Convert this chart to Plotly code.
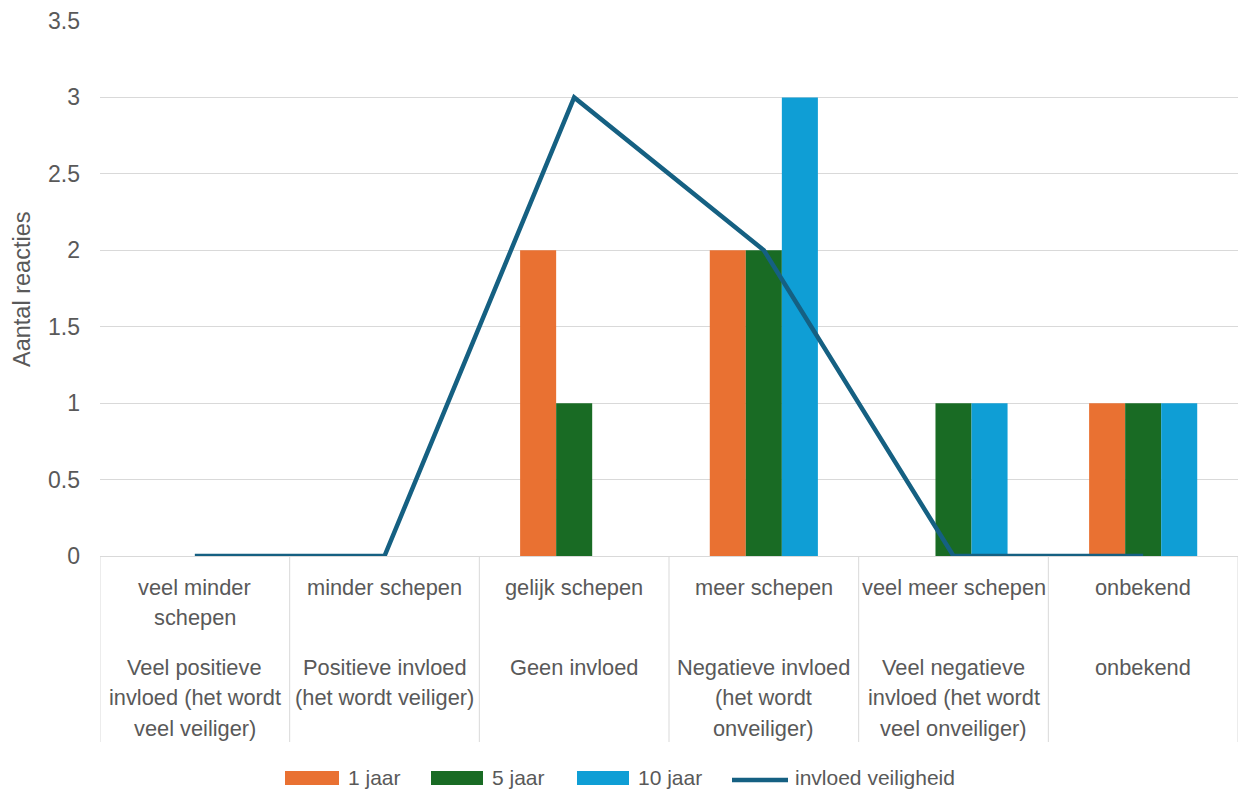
import plotly.graph_objects as go

# Category labels (two-level axis: ship traffic / safety impact)
ship_levels = [
    "veel minder<br>schepen",
    "minder schepen",
    "gelijk schepen",
    "meer schepen",
    "veel meer schepen",
    "onbekend",
]
safety_levels = [
    "Veel positieve<br>invloed (het wordt<br>veel veiliger)",
    "Positieve invloed<br>(het wordt veiliger)",
    "Geen invloed",
    "Negatieve invloed<br>(het wordt<br>onveiliger)",
    "Veel negatieve<br>invloed (het wordt<br>veel onveiliger)",
    "onbekend",
]

# Number of responses per horizon
jaar_1 = [0, 0, 2, 2, 0, 1]
jaar_5 = [0, 0, 1, 2, 1, 1]
jaar_10 = [0, 0, 0, 3, 1, 1]
invloed_veiligheid = [0, 0, 3, 2, 0, 0]

y_ticks = [0, 0.5, 1, 1.5, 2, 2.5, 3, 3.5]

series_names = ["1 jaar", "5 jaar", "10 jaar", "invloed veiligheid"]
colors = ["#E97132", "#196B24", "#0F9ED5", "#156082"]

FONT = "Liberation Sans, Arial, sans-serif"
TEXT_COLOR = "#595959"
GRID = "#d9d9d9"
FS = 21.8

W, H = 1239, 791
ML, MR, MT, MB = 100, 1, 21, 235
PW = W - ML - MR
PH = H - MT - MB


def px_x(p):
    return (p - ML) / PW


def px_y(p):
    return (H - MB - p) / PH


x_idx = list(range(len(ship_levels)))

fig = go.Figure()
for name, vals, col in zip(series_names[:3], [jaar_1, jaar_5, jaar_10], colors[:3]):
    fig.add_trace(go.Bar(x=x_idx, y=vals, name=name, marker=dict(color=col, line=dict(width=0)),
                         showlegend=False))

fig.add_trace(go.Scatter(x=x_idx, y=invloed_veiligheid, mode="lines", name=series_names[3],
                         line=dict(color=colors[3], width=4.5), cliponaxis=False,
                         showlegend=False))

shapes = []
annotations = []

# Category table grid below the plot
for i in range(len(ship_levels) + 1):
    shapes.append(dict(type="line", xref="x", yref="paper", x0=i - 0.5, x1=i - 0.5,
                       y0=0, y1=px_y(742), line=dict(color=GRID, width=1)))

row_tops = [587, 667]
line_step = 30.5
for row, labels in zip(row_tops, [ship_levels, safety_levels]):
    for i, lab in enumerate(labels):
        for k, part in enumerate(lab.split("<br>")):
            annotations.append(dict(
                x=i, y=px_y(row + k * line_step), xref="x", yref="paper",
                text=part, showarrow=False, xanchor="center", yanchor="middle",
                font=dict(family=FONT, size=FS, color=TEXT_COLOR)))

# Axis title
annotations.append(dict(x=px_x(22), y=px_y(290), xref="paper", yref="paper",
                        text="Aantal reacties", textangle=-90, showarrow=False,
                        xanchor="center", yanchor="middle",
                        font=dict(family=FONT, size=23.5, color=TEXT_COLOR)))

# Legend
leg_y = 777
swatches = [(285, 339), (431, 483), (577, 629)]
text_left = [346, 490, 636, 793]
for (a, b), col in zip(swatches, colors[:3]):
    shapes.append(dict(type="rect", xref="paper", yref="paper",
                       x0=px_x(a), x1=px_x(b), y0=px_y(leg_y + 8), y1=px_y(leg_y - 6),
                       fillcolor=col, line=dict(width=0)))
shapes.append(dict(type="line", xref="paper", yref="paper",
                   x0=px_x(732), x1=px_x(788), y0=px_y(leg_y + 3), y1=px_y(leg_y + 3),
                   line=dict(color=colors[3], width=4.5)))
for name, left in zip(series_names, text_left):
    annotations.append(dict(x=px_x(left), y=px_y(leg_y), xref="paper", yref="paper",
                            text=name, showarrow=False, xanchor="left", yanchor="middle",
                            font=dict(family=FONT, size=21, color=TEXT_COLOR)))

fig.update_layout(
    width=W, height=H,
    margin=dict(l=ML, r=MR, t=MT, b=MB, pad=0),
    paper_bgcolor="white", plot_bgcolor="white",
    barmode="group", bargap=0.43, bargroupgap=0,
    shapes=shapes, annotations=annotations,
    font=dict(family=FONT, size=FS, color=TEXT_COLOR),
    showlegend=False,
)
fig.update_xaxes(range=[-0.5, len(ship_levels) - 0.5], showticklabels=False, showgrid=False,
                 zeroline=False, showline=False, ticks="")
fig.update_yaxes(range=[0, 3.5], tickvals=y_ticks, ticktext=[f"{v:g}" for v in y_ticks],
                 showgrid=True, gridcolor=GRID, gridwidth=1, zeroline=True,
                 zerolinecolor=GRID, zerolinewidth=1, showline=False, ticks="",
                 ticklabelstandoff=19,
                 tickfont=dict(family=FONT, size=23, color=TEXT_COLOR))

fig.write_html("out.html")
